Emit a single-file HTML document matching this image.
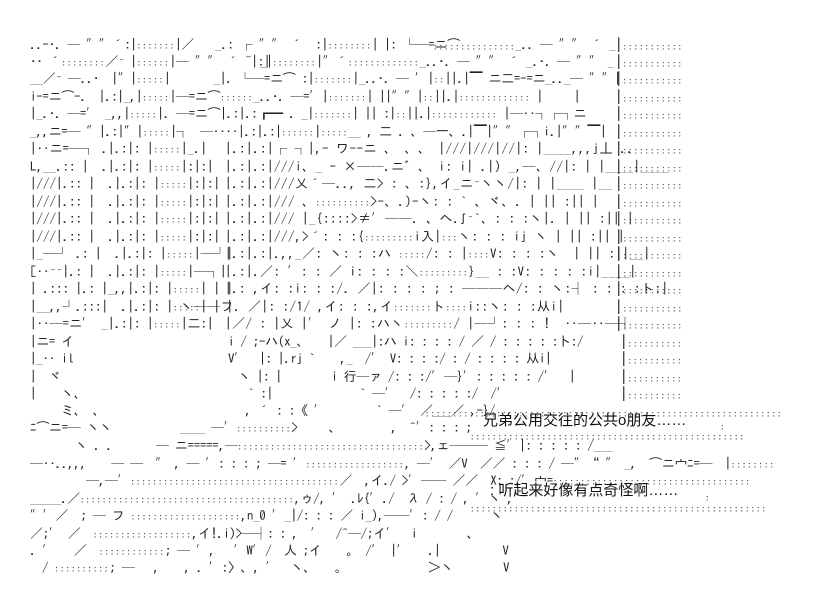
<!DOCTYPE html>
<html><head><meta charset="utf-8"><style>
html,body{margin:0;padding:0;background:#fff;}
#c{position:relative;width:829px;height:604px;overflow:hidden;font-family:"IPAGothic","Liberation Sans","Noto Sans CJK JP",sans-serif;font-size:15px;color:#222;}
#c div{position:absolute;white-space:pre;line-height:16px;}
.s{font-size:13px;letter-spacing:-0.3px;}
#c .l{letter-spacing:0px;}
#c .m{letter-spacing:0.5px;}
.d{font-size:9px;letter-spacing:1px;color:#444;}
.t{font-family:"Liberation Sans","Noto Sans CJK SC",sans-serif;font-size:15px;color:#111;letter-spacing:0;}
</style></head><body><div id="c">
<div style="left:615px;top:37px">|<span class="d">:::::::::::</span></div>
<div style="left:615px;top:54px">|<span class="d">:::::::::::</span></div>
<div style="left:615px;top:71px">|<span class="d">:::::::::::</span></div>
<div style="left:615px;top:89px">|<span class="d">:::::::::::</span></div>
<div style="left:615px;top:106px">|<span class="d">:::::::::::</span></div>
<div style="left:615px;top:124px">|<span class="d">:::::::::::</span></div>
<div style="left:615px;top:141px">|<span class="d">:::::::::::</span></div>
<div style="left:615px;top:159px">|<span class="d">:::::::::::</span></div>
<div style="left:615px;top:176px">|<span class="d">:::::::::::</span></div>
<div style="left:615px;top:194px">|<span class="d">:::::::::::</span></div>
<div style="left:615px;top:211px">|<span class="d">:::::::::::</span></div>
<div style="left:615px;top:229px">|<span class="d">:::::::::::</span></div>
<div style="left:615px;top:246px">|<span class="d">:::::::::::</span></div>
<div style="left:615px;top:264px">|<span class="d">:::::::::::</span></div>
<div style="left:615px;top:281px">|<span class="d">:::::::::::</span></div>
<div style="left:615px;top:299px">|<span class="d">:::::::::::</span></div>
<div style="left:615px;top:316px">|<span class="d">:::::::::::</span></div>
<div style="left:620px;top:334px">|<span class="d">::::::::::</span></div>
<div style="left:620px;top:351px">|<span class="d">::::::::::</span></div>
<div style="left:620px;top:369px">|<span class="d">::::::::::</span></div>
<div style="left:620px;top:386px">|<span class="d">::::::::::</span></div>

<div class="s" style="left:30px;top:37px">..-·. ─ ″″´:|<span class="d">:::::::</span>|／</div>
<div class="s" style="left:215px;top:37px">_.: ┌ ″″ ´  :|<span class="d">::::::::</span>| |: └─=ニ⌒</div>
<div style="left:433px;top:40px" class="d">:::::::::::::::</div>
<div class="s" style="left:515px;top:37px">_.. ─ ″″ ´ _</div>

<div class="s" style="left:30px;top:54px">·· ´<span class="d">::::::::</span>／ ̄ |<span class="d">::::::</span>|─ ″″ ´ ¯|:|</div>
<div class="s" style="left:260px;top:54px">_|<span class="d">::::::::</span>|″´<span class="d">:::::::::::::</span>_..·. ─ ″″ ´ _.·. ─ ″″ _</div>

<div class="s" style="left:30px;top:71px">＿／ ̄ ─..·  |″|<span class="d">:::::</span>|       _|. └─=ニ⌒ :|<span class="d">:::::::</span>|_..·. ─ ′|<span class="d">::</span>||.|▔ ニ二=-=ニ_.._─ ″″|</div>

<div class="s" style="left:30px;top:89px">i-=ニ⌒-.  |.:|_,|<span class="d">:::::</span>|─=ニ⌒<span class="d">::::::</span>_..·. ─=′|<span class="d">:::::::</span>| ||″″|<span class="d">::</span>||.|<span class="d">:::::::::::::</span> |     |</div>

<div class="s" style="left:30px;top:106px">|_.·. ─=′ _,,|<span class="d">:::::</span>|. ─=ニ⌒|.:|.:┏━ . _|<span class="d">:::::::</span>| || :|<span class="d">::</span>||.|<span class="d">::::::::::::</span> |─‥┐┌┐ニ</div>

<div class="s" style="left:30px;top:124px">_,,ニ=─ ″|.:|″|<span class="d">:::::</span>|┐</div>
<div class="s" style="left:200px;top:124px">─‥‥|.:|.:|<span class="d">::::::</span>|<span class="d">:::::</span>__ , 二 . 、─一、.|▔|″″┌┐i.|″″▔|</div>

<div class="s l" style="left:30px;top:141px">|‥ニ=─┐ .|.:|: |<span class="d">:::::</span>|_.|</div>
<div class="s l" style="left:30px;top:159px">L,__.:: |  .|.:|: |<span class="d">:::::</span>|:|:|</div>
<div class="s l" style="left:30px;top:176px">|///|.:: |  .|.:|: |<span class="d">:::::</span>|:|:|</div>
<div class="s l" style="left:30px;top:194px">|///|.:: |  .|.:|: |<span class="d">:::::</span>|:|:|</div>
<div class="s l" style="left:30px;top:211px">|///|.:: |  .|.:|: |<span class="d">:::::</span>|:|:|</div>
<div class="s l" style="left:30px;top:229px">|///|.:: |  .|.:|: |<span class="d">:::::</span>|:|:|</div>
<div class="s l" style="left:30px;top:246px">|_─┘ .: |  .|.:|: |<span class="d">:::::</span>|─┘|</div>
<div class="s l" style="left:30px;top:264px">[‥ ̄ ̄|.: |  .|.:|: |<span class="d">:::::</span>|─┐|</div>
<div class="s l" style="left:30px;top:281px">| .::: |.: |_,,|.:|: |<span class="d">:::::</span>| | |</div>
<div class="s l" style="left:30px;top:299px">|__,,┘.:::|  .|.:|: |<span class="d">:::::</span>| | |</div>
<div class="s l" style="left:30px;top:316px">|‥─=ニ′ _|.:|: |<span class="d">:::::</span>|二:|</div>

<div class="s m" style="left:225px;top:141px">|.:|.:|┌ ┐|,- ワ--ニ 、 、、 |///|///|//|: |____,,,j丄 ..</div>
<div class="s m" style="left:225px;top:159px">|.:|.:|///i、_ - ×──.ニ゛、 i: i| .|) _,─、//|: | |____|____</div>
<div class="s m" style="left:225px;top:176px">|.:|.:|///乂´─.., 二> : 、:},イ_ニ ̄ヽヽ/|: | |____ |__</div>
<div class="s m" style="left:225px;top:194px">|.:|.:|/// 、<span class="d">::::::::::</span>>-、.)-ヽ: : ` 、ヾ、. | || :|| |</div>
<div class="s m" style="left:225px;top:211px">|.:|.:|/// |_{::::>≠′──. 、ヘ.ʃ ̄`、: : :ヽ|. | || :|| |</div>
<div class="s m" style="left:225px;top:229px">|.:|.:|///,>´: : :{<span class="d">:::::::::</span>i入|<span class="d">:::</span>ヽ: : : ij ヽ | || :|| |</div>
<div class="s m" style="left:225px;top:246px">|.:|.:|.,,_／: ヽ: : :ハ <span class="d">:::::</span>/: : |<span class="d">::::</span>V: : : :ヽ  | || :||__|</div>
<div class="s m" style="left:225px;top:264px">|.:|.／: ′: : ／ i: : : :＼<span class="d">:::::::::</span>}__ : :V: : : : :i|____|</div>
<div class="s m" style="left:225px;top:281px">|.: ,イ: :i: : :/. ／|: : : : ; : ───ヘ/: : ヽ:┤ : : : :ト:|</div>
<div class="s m" style="left:180px;top:299px">ヽ──フ. ／|: :/1/ ,イ: : :,イ<span class="d">:::::::</span>ト<span class="d">::::</span>i::ヽ: : :从i|</div>
<div class="s m" style="left:225px;top:316px">|／/ : |乂 |′ ノ |: :ハヽ<span class="d">:::::::::</span>/ |─┘: : : !  ‥─‥─┤</div>

<div class="s" style="left:30px;top:334px">|ニ= イ</div>
<div class="s" style="left:228px;top:334px">i / ;−ハ(x_、   |／ ___|:ハ i: : : : / ／ / : : : : :卜:/</div>
<div class="s" style="left:30px;top:351px">|_‥ il</div>
<div class="s" style="left:228px;top:351px">V′  |: |.rj `    ,_  /′ V: : : :/ : / : : : : 从i|</div>
<div class="s" style="left:30px;top:369px">|  ヾ</div>
<div class="s" style="left:238px;top:369px">ヽ |: |        i 行─ァ /: : :/′─}′: : : : : /′  |</div>
<div class="s" style="left:30px;top:386px">|    ヽ、</div>
<div class="s" style="left:248px;top:386px">` :|              ` ─′  /: : : : :/  /′</div>

<div class="s" style="left:30px;top:403px">     ミ、 、</div>
<div class="s" style="left:245px;top:403px">, ´ : :《 ′        ` ─′ ／___／ ,-}/</div>
<div style="left:425px;top:407px" class="d">:::::::::::::::::::::::::::::::::::::::::::::::::::::::::::::::::</div>
<div class="s" style="left:30px;top:420px">ﾆ⌒ニ=─ ヽヽ</div>
<div class="s" style="left:180px;top:420px">____ ─′<span class="d">::::::::::</span>>     、        ,  ^′: : : ;</div>
<div style="left:470px;top:430px" class="d">::::::::::::::::::::::::::::::::::::::::::::::::::</div>
<div style="left:483px;top:413px" class="t">兄弟公用交往的公共o朋友……</div>
<div style="left:720px;top:420px" class="d">:</div>
<div class="s" style="left:75px;top:438px">ヽ . .       ─ ニ=====,─<span class="d">::::::::::::::::::::::::::::::::::</span>>,ェ─── ≦′|: : : : : /___</div>
<div class="s" style="left:30px;top:456px">─‥..,,,    ─ ─  ″ , ─ ′: : : ; ─= ′<span class="d">::::::::::::::::::</span>, ─′ ／V  ／／ : : : / ─″“ ″ _,  ⌒ニ宀ﾆ=─  |<span class="d">::::::::</span></div>
<div class="s" style="left:86px;top:473px">─,─′<span class="d">::::::::::::::::::::::::::::::::::::::</span>／  ,イ./ >′── ／／  X: :/′宀=<span class="d">::::::::::::::::::::::::::::::::::::</span></div>
<div class="s" style="left:30px;top:491px">_____.／<span class="d">:::::::::::::::::::::::::::::::::::::::</span>,ゥ/, ′ .ﾚ{′./  λ / : / , ′ヽ ,′</div>
<div style="left:490px;top:483px" class="t">: 听起来好像有点奇怪啊……</div>
<div style="left:705px;top:491px" class="d">:</div>
<div style="left:470px;top:502px" class="d">::::::::::::::::::::::::::::::::::::::::::::::::::::::</div>
<div class="s" style="left:30px;top:508px">″′／  ; ─ フ <span class="d">::::::::::::::::::::</span>,n_0 ′_|/: : : ／ i_),──′: / /      ヽ</div>
<div class="s" style="left:30px;top:526px">／;′ ／  <span class="d">::::::::::::::::::</span>,イ!.i)>─┤: : ,  ′  /^─/;イ′  i        、</div>
<div class="s" style="left:30px;top:543px">. ′   ／  <span class="d">::::::::::::</span>; ─ ′,   ′W′/  人 ;イ    。 /′ |′   .|          V</div>
<div class="s" style="left:42px;top:560px">/ <span class="d">::::::::::</span>; ─   ,    , . ′:〉、, ′  ヽ、   。             ＞ヽ        V</div>
</div></body></html>
